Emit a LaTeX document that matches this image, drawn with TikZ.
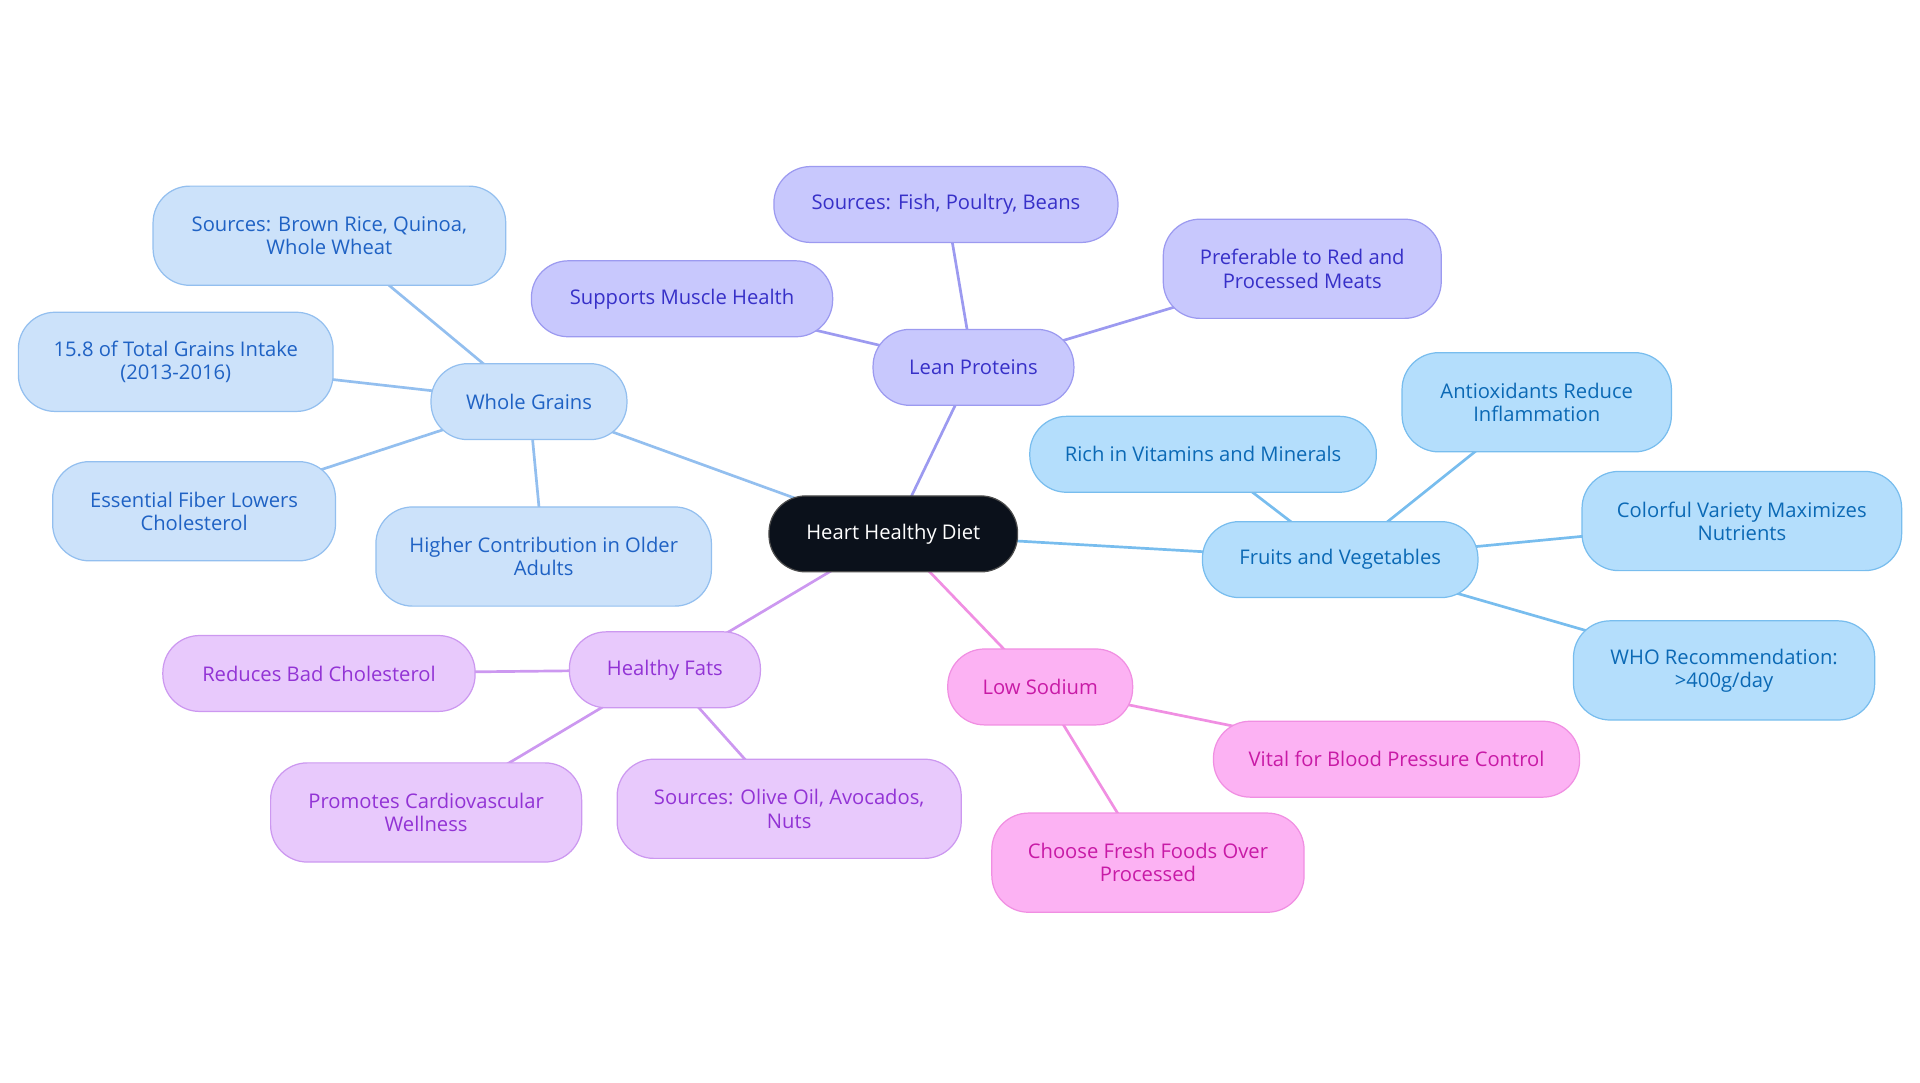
\documentclass[tikz,border=0pt]{standalone}
\usepackage{fontspec}
\setmainfont{Open Sans}
\usepackage{tikz}
\usetikzlibrary{backgrounds}

\definecolor{wgfill}{HTML}{CCE2FA}
\definecolor{wgdraw}{HTML}{93BFEF}
\definecolor{wgtext}{HTML}{1F62C4}
\definecolor{lpfill}{HTML}{C8C8FD}
\definecolor{lpdraw}{HTML}{9C9AF0}
\definecolor{lptext}{HTML}{3730C8}
\definecolor{fvfill}{HTML}{B4DEFC}
\definecolor{fvdraw}{HTML}{78BDEE}
\definecolor{fvtext}{HTML}{0B69B5}
\definecolor{hffill}{HTML}{E8C9FC}
\definecolor{hfdraw}{HTML}{CC98F0}
\definecolor{hftext}{HTML}{9233D5}
\definecolor{lsfill}{HTML}{FCB2F3}
\definecolor{lsdraw}{HTML}{F08FE2}
\definecolor{lstext}{HTML}{C81AA6}
\definecolor{racine}{HTML}{0B111B}

\tikzstyle{bulle} = [rectangle, rounded corners=30pt, draw, line width=1pt, minimum height=62pt, align=center, inner xsep=0pt, font=\fontsize{16.5}{19}\selectfont]
\tikzstyle{haute} = [minimum height=81pt]
\tikzstyle{wg} = [bulle, fill=wgfill, draw=wgdraw, text=wgtext]
\tikzstyle{lp} = [bulle, fill=lpfill, draw=lpdraw, text=lptext]
\tikzstyle{fv} = [bulle, fill=fvfill, draw=fvdraw, text=fvtext]
\tikzstyle{hf} = [bulle, fill=hffill, draw=hfdraw, text=hftext]
\tikzstyle{ls} = [bulle, fill=lsfill, draw=lsdraw, text=lstext]
\tikzstyle{lien} = [line width=2.2pt]

\begin{document}
\begin{tikzpicture}[x=1pt, y=-1pt]

        \useasboundingbox (0,0) rectangle (1568,884.4);

        \node (HHD) [bulle, fill=racine, draw=black!70, text=white, minimum width=203pt] at (729.5,436) {Heart Healthy Diet};

        \node (WG) [wg, minimum width=160pt] at (432,328) {Whole Grains};
        \node (WG1) [wg, haute, minimum width=288pt] at (269,192.5) {Sources: Brown Rice, Quinoa,\\Whole Wheat};
        \node (WG2) [wg, haute, minimum width=257pt] at (143.5,295.5) {15.8 of Total Grains Intake\\(2013-2016)};
        \node (WG3) [wg, haute, minimum width=231pt] at (158.5,417.5) {Essential Fiber Lowers\\Cholesterol};
        \node (WG4) [wg, haute, minimum width=274pt] at (444,454.5) {Higher Contribution in Older\\Adults};

        \node (LP) [lp, minimum width=164pt] at (795,300) {Lean Proteins};
        \node (LP1) [lp, minimum width=281pt] at (772.5,167) {Sources: Fish, Poultry, Beans};
        \node (LP2) [lp, minimum width=246pt] at (557,244) {Supports Muscle Health};
        \node (LP3) [lp, haute, minimum width=227pt] at (1063.5,219.5) {Preferable to Red and\\Processed Meats};

        \node (FV) [fv, minimum width=225pt] at (1094.5,457) {Fruits and Vegetables};
        \node (FV1) [fv, minimum width=283pt] at (982.5,371) {Rich in Vitamins and Minerals};
        \node (FV2) [fv, haute, minimum width=220pt] at (1255,328.5) {Antioxidants Reduce\\Inflammation};
        \node (FV3) [fv, haute, minimum width=261pt] at (1422.5,425.5) {Colorful Variety Maximizes\\Nutrients};
        \node (FV4) [fv, haute, minimum width=246pt] at (1408,547.5) {WHO Recommendation:\\>400g/day};

        \node (HF) [hf, minimum width=156pt] at (543,547) {Healthy Fats};
        \node (HF1) [hf, minimum width=255pt] at (260.5,550) {Reduces Bad Cholesterol};
        \node (HF2) [hf, haute, minimum width=254pt] at (348,663.5) {Promotes Cardiovascular\\Wellness};
        \node (HF3) [hf, haute, minimum width=281pt] at (644.5,660.5) {Sources: Olive Oil, Avocados,\\Nuts};

        \node (LS) [ls, minimum width=151pt] at (849.5,561) {Low Sodium};
        \node (LS1) [ls, minimum width=299pt] at (1140.5,620) {Vital for Blood Pressure Control};
        \node (LS2) [ls, haute, minimum width=255pt] at (937.5,704.5) {Choose Fresh Foods Over\\Processed};

        % liens derriere les bulles
        \begin{scope}[on background layer]
        \draw[lien, wgdraw] (HHD.center) -- (WG.center);
        \foreach \n in {WG1,WG2,WG3,WG4} \draw[lien, wgdraw] (WG.center) -- (\n.center);
        \draw[lien, lpdraw] (HHD.center) -- (LP.center);
        \foreach \n in {LP1,LP2,LP3} \draw[lien, lpdraw] (LP.center) -- (\n.center);
        \draw[lien, fvdraw] (HHD.center) -- (FV.center);
        \foreach \n in {FV1,FV2,FV3,FV4} \draw[lien, fvdraw] (FV.center) -- (\n.center);
        \draw[lien, hfdraw] (HHD.center) -- (HF.center);
        \foreach \n in {HF1,HF2,HF3} \draw[lien, hfdraw] (HF.center) -- (\n.center);
        \draw[lien, lsdraw] (HHD.center) -- (LS.center);
        \foreach \n in {LS1,LS2} \draw[lien, lsdraw] (LS.center) -- (\n.center);
        \end{scope}

    \end{tikzpicture}
\end{document}
